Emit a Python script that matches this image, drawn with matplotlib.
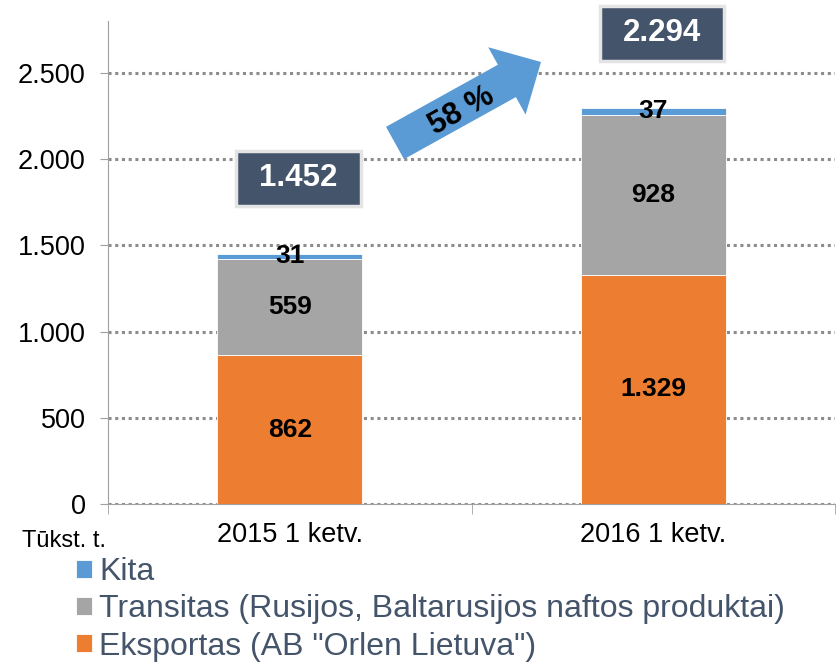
import matplotlib.pyplot as plt
import matplotlib.patches as mpatches
from matplotlib.ticker import FuncFormatter, FixedLocator

plt.rcParams["font.family"] = ["Liberation Sans", "DejaVu Sans"]

categories = ["2015 1 ketv.", "2016 1 ketv."]
eksportas = [862, 1329]
transitas = [559, 928]
kita = [31, 37]
totals = ["1.452", "2.294"]
growth = "58 %"

series_names = [
    "Eksportas (AB \"Orlen Lietuva\")",
    "Transitas (Rusijos, Baltarusijos naftos produktai)",
    "Kita",
]
colors = ["#ED7D31", "#A5A5A5", "#5B9BD5"]


def fmt_thousands(v, pos=None):
    return f"{int(v):,}".replace(",", ".")


def plot_chart():
    fig = plt.figure(figsize=(8.36, 6.66), dpi=100)
    ax = fig.add_axes([108 / 836, 162 / 666, 727 / 836, 483 / 666])

    x = list(range(len(categories)))
    width = 0.4

    bottoms = [0] * len(categories)
    handles = []
    for vals, name, col in zip([eksportas, transitas, kita], series_names, colors):
        bars = ax.bar(x, vals, width, bottom=bottoms, color=col,
                      edgecolor="white", linewidth=0.6, label=name, zorder=3)
        handles.append(bars)
        for xi, b, v in zip(x, bottoms, vals):
            ax.text(xi, b + v / 2, fmt_thousands(v), ha="center", va="center",
                    fontsize=19, fontweight="bold", color="black", zorder=5)
        bottoms = [b + v for b, v in zip(bottoms, vals)]

    # total boxes
    box_w = 0.342
    box_h = 319
    for xi, top, label in zip(x, bottoms, totals):
        cx = xi + 0.024
        cy = top + 435
        rect = mpatches.Rectangle((cx - box_w / 2, cy - box_h / 2), box_w, box_h,
                                  facecolor="#44546A", edgecolor="#E4E4E4",
                                  linewidth=2.5, clip_on=False, zorder=6)
        ax.add_patch(rect)
        ax.text(cx, cy, label, ha="center", va="center", fontsize=22.5,
                fontweight="bold", color="white", zorder=7, clip_on=False)

    ax.set_xlim(-0.5, 1.5)
    ax.set_ylim(0, 2800)
    ax.set_yticks([0, 500, 1000, 1500, 2000, 2500])
    ax.yaxis.set_major_formatter(FuncFormatter(fmt_thousands))
    ax.set_xticks(x)
    ax.set_xticklabels(categories)
    ax.xaxis.set_minor_locator(FixedLocator([-0.5, 0.5, 1.5]))
    ax.tick_params(axis="x", which="major", length=0, labelsize=19.5, pad=13)
    ax.tick_params(axis="x", which="minor", length=7, color="#A0A0A0", direction="out")
    ax.tick_params(axis="y", length=6, color="#A0A0A0", labelsize=19.5, pad=10)

    ax.yaxis.grid(True, linestyle=(0, (1, 1.2)), linewidth=2.2, color="#8C8C8C", zorder=0)
    ax.set_axisbelow(True)
    for s in ["top", "right"]:
        ax.spines[s].set_visible(False)
    ax.spines["left"].set_color("#A0A0A0")
    ax.spines["bottom"].set_color("#A0A0A0")

    fig.text(22 / 836, 1 - 541 / 666, "Tūkst. t.", fontsize=17, va="center", ha="left")

    # growth arrow
    arrow = mpatches.FancyArrow(3.95, 5.23, 1.46, 0.81, width=0.37, head_width=0.77,
                                head_length=0.39, length_includes_head=True,
                                transform=fig.dpi_scale_trans, color="#5B9BD5",
                                linewidth=0, zorder=4)
    fig.add_artist(arrow)
    fig.text(4.62, 5.55, growth, transform=fig.dpi_scale_trans, rotation=29,
             ha="center", va="center", fontsize=22, fontweight="bold",
             color="black", zorder=5)

    leg = fig.legend(handles[::-1], series_names[::-1], loc="upper left",
                     bbox_to_anchor=(76 / 836, 1 - 557 / 666), frameon=False,
                     fontsize=23, handlelength=0.5, handleheight=0.5,
                     handletextpad=0.22, labelspacing=0.23, borderaxespad=0,
                     borderpad=0)
    for t in leg.get_texts():
        t.set_color("#44546A")

    fig.savefig("out.png", dpi=100)


if __name__ == "__main__":
    plot_chart()
